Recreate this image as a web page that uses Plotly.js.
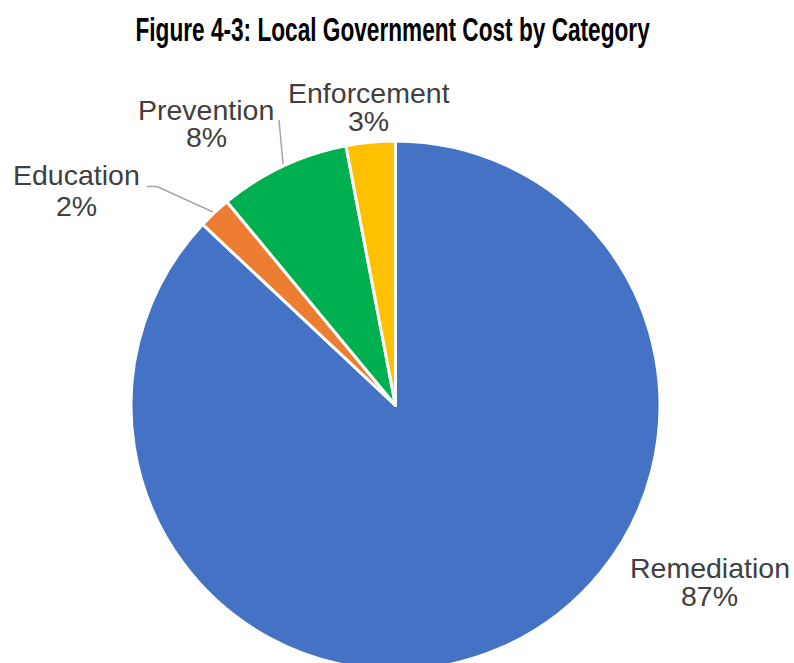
<!DOCTYPE html>
<html>
<head>
<meta charset="utf-8">
<script src="https://cdn.plot.ly/plotly-3.0.1.min.js"></script>
<style>
html, body { margin: 0; padding: 0; overflow: hidden; background: #fff; width: 794px; height: 663px; }
#chart { width: 794px; height: 700px; }
</style>
</head>
<body>
<div id="chart"></div>
<script>
const categories = ["Remediation", "Education", "Prevention", "Enforcement"];
const values = [87, 2, 8, 3];
const sliceColors = ["#4472C4", "#ED7D31", "#00B050", "#FFC000"];
const chartTitle = "Figure 4-3: Local Government Cost by Category";

const W = 794, H = 700;
const M = { l: 131, r: 134, t: 141, b: 30 };
const PW = W - M.l - M.r, PH = H - M.t - M.b;
const px = x => (x - M.l) / PW;
const py = y => (H - M.b - y) / PH;

const total = values.reduce((a, b) => a + b, 0);
const pct = values.map(v => Math.round(v / total * 100) + "%");

// label placement (pixel centres of name line / percent line)
const labelPos = {
  "Remediation": [709.5, 567, 595],
  "Education":   [76.5, 175, 205],
  "Prevention":  [206, 109, 137],
  "Enforcement": [368.5, 92, 120]
};
const labelFont = { family: "Liberation Sans, Arial, sans-serif", size: 28.5, color: "#404040" };
const annotations = [];
categories.forEach((c, i) => {
  const p = labelPos[c];
  annotations.push({ text: c, x: px(p[0]), y: py(p[1]), xref: "paper", yref: "paper",
    xanchor: "center", yanchor: "middle", showarrow: false, font: labelFont, height: 27, borderpad: 0 });
  annotations.push({ text: pct[i], x: px(p[0]), y: py(p[2]), xref: "paper", yref: "paper",
    xanchor: "center", yanchor: "middle", showarrow: false, font: labelFont, height: 27, borderpad: 0 });
});

const leader = { color: "#A6A6A6", width: 1.5 };
const shapes = [
  { type: "path", xref: "paper", yref: "paper",
    path: `M ${px(147)} ${py(186.5)} L ${px(157)} ${py(186.5)} L ${px(213)} ${py(212)}`, line: leader },
  { type: "path", xref: "paper", yref: "paper",
    path: `M ${px(279)} ${py(120)} L ${px(283)} ${py(164)}`, line: leader }
];

const titleCx = 392.5, titleWidth = 515;

Plotly.newPlot("chart", [{
  type: "pie",
  labels: categories,
  values: values,
  sort: false,
  direction: "clockwise",
  rotation: 0,
  textinfo: "none",
  hoverinfo: "label+percent",
  marker: { colors: sliceColors, line: { color: "#FFFFFF", width: 3 } },
  domain: { x: [0, 1], y: [0, 1] }
}], {
  width: W, height: H,
  margin: M,
  showlegend: false,
  paper_bgcolor: "#FFFFFF",
  title: {
    text: "<b>" + chartTitle + "</b>",
    x: titleCx / W, xanchor: "center", xref: "container",
    y: 1 - 29 / H, yanchor: "middle", yref: "container",
    font: { family: "Liberation Sans, Arial, sans-serif", size: 33, color: "#000000" }
  },
  annotations: annotations,
  shapes: shapes
}, { staticPlot: true }).then(gd => {
  // condense the title to mimic the narrow display face
  const t = gd.querySelector(".gtitle");
  if (t) {
    const bb = t.getBBox();
    const sx = titleWidth / bb.width;
    const cx = bb.x + bb.width / 2;
    t.setAttribute("transform", `translate(${cx},0) scale(${sx},1) translate(${-cx},0)`);
  }
});
</script>
</body>
</html>
